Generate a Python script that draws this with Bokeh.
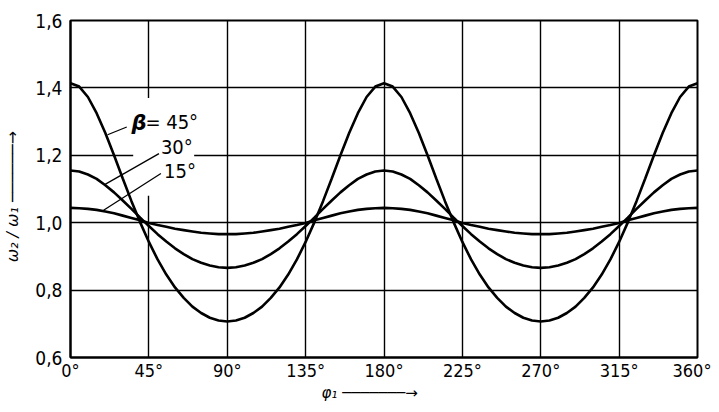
from bokeh.plotting import figure
from bokeh.models import Range1d, FixedTicker, CustomJSTickFormatter, Label
from bokeh.embed import file_html
from bokeh.resources import INLINE

# ---- data ----
phi1 = [0, 5, 10, 15, 20, 25, 30, 35, 40, 45, 50, 55, 60, 65, 70, 75, 80, 85, 90,
        95, 100, 105, 110, 115, 120, 125, 130, 135, 140, 145, 150, 155, 160, 165, 170, 175, 180,
        185, 190, 195, 200, 205, 210, 215, 220, 225, 230, 235, 240, 245, 250, 255, 260, 265, 270,
        275, 280, 285, 290, 295, 300, 305, 310, 315, 320, 325, 330, 335, 340, 345, 350, 355, 360]

ratio_45 = [1.414, 1.404, 1.373, 1.325, 1.266, 1.200, 1.131, 1.064, 1.001, 0.943, 0.891, 0.846, 0.808, 0.777, 0.751, 0.732, 0.718, 0.710, 0.707,
            0.710, 0.718, 0.732, 0.751, 0.777, 0.808, 0.846, 0.891, 0.943, 1.001, 1.064, 1.131, 1.200, 1.266, 1.325, 1.373, 1.404, 1.414,
            1.404, 1.373, 1.325, 1.266, 1.200, 1.131, 1.064, 1.001, 0.943, 0.891, 0.846, 0.808, 0.777, 0.751, 0.732, 0.718, 0.710, 0.707,
            0.710, 0.718, 0.732, 0.751, 0.777, 0.808, 0.846, 0.891, 0.943, 1.001, 1.064, 1.131, 1.200, 1.266, 1.325, 1.373, 1.404, 1.414]

ratio_30 = [1.155, 1.152, 1.143, 1.130, 1.111, 1.090, 1.066, 1.041, 1.015, 0.990, 0.966, 0.944, 0.924, 0.907, 0.892, 0.881, 0.873, 0.868, 0.866,
            0.868, 0.873, 0.881, 0.892, 0.907, 0.924, 0.944, 0.966, 0.990, 1.015, 1.041, 1.066, 1.090, 1.111, 1.130, 1.143, 1.152, 1.155,
            1.152, 1.143, 1.130, 1.111, 1.090, 1.066, 1.041, 1.015, 0.990, 0.966, 0.944, 0.924, 0.907, 0.892, 0.881, 0.873, 0.868, 0.866,
            0.868, 0.873, 0.881, 0.892, 0.907, 0.924, 0.944, 0.966, 0.990, 1.015, 1.041, 1.066, 1.090, 1.111, 1.130, 1.143, 1.152, 1.155]

ratio_15 = [1.044, 1.043, 1.041, 1.038, 1.033, 1.028, 1.021, 1.014, 1.007, 0.999, 0.993, 0.988, 0.982, 0.978, 0.974, 0.970, 0.968, 0.966, 0.966,
            0.966, 0.968, 0.970, 0.974, 0.978, 0.982, 0.988, 0.993, 0.999, 1.007, 1.014, 1.021, 1.028, 1.033, 1.038, 1.041, 1.043, 1.044,
            1.043, 1.041, 1.038, 1.033, 1.028, 1.021, 1.014, 1.007, 0.999, 0.993, 0.988, 0.982, 0.978, 0.974, 0.970, 0.968, 0.966, 0.966,
            0.966, 0.968, 0.970, 0.974, 0.978, 0.982, 0.988, 0.993, 0.999, 1.007, 1.014, 1.021, 1.028, 1.033, 1.038, 1.041, 1.043, 1.044]

x_ticks = [0, 45, 90, 135, 180, 225, 270, 315, 360]
y_ticks = [0.6, 0.8, 1.0, 1.2, 1.4, 1.6]

FONT = "Liberation Sans Narrow, DejaVu Sans Condensed, Roboto"
TITLE_FONT = "DejaVu Sans"

p = figure(width=711, height=404, x_range=Range1d(0, 360), y_range=Range1d(0.6, 1.6),
           output_backend="svg", toolbar_location=None,
           min_border_left=68, min_border_right=14, min_border_top=20, min_border_bottom=40)
p.background_fill_color = "white"
p.border_fill_color = "white"
p.outline_line_color = "black"
p.outline_line_width = 2

for ax in (p.xaxis[0], p.yaxis[0]):
    ax.major_tick_out = 0
    ax.major_tick_in = 0
    ax.minor_tick_out = 0
    ax.minor_tick_in = 0
    ax.axis_line_color = "black"
    ax.axis_line_width = 2
    ax.major_label_text_font = FONT
    ax.major_label_text_font_size = "19px"
    ax.major_label_text_color = "black"
    ax.axis_label_text_font = TITLE_FONT
    ax.axis_label_text_font_size = "16px"
    ax.axis_label_text_color = "black"
    ax.axis_label_text_font_style = "italic"

p.xaxis.major_label_text_font_size = "18px"
p.xaxis.axis_label_text_font_size = "15px"
p.xaxis.ticker = FixedTicker(ticks=x_ticks)
p.yaxis.ticker = FixedTicker(ticks=y_ticks)
p.xaxis.formatter = CustomJSTickFormatter(code="return tick.toFixed(0) + '\u00b0';")
p.yaxis.formatter = CustomJSTickFormatter(code="return tick.toFixed(1).replace('.', ',');")
p.xaxis.major_label_standoff = 2
p.yaxis.major_label_standoff = 8
p.xaxis.axis_label = "     \u03c6\u2081  \u2500\u2500\u2500\u2500\u2500\u2500\u2500\u2192"
p.yaxis.axis_label = "\u03c9\u2082 / \u03c9\u2081    \u2500\u2500\u2500\u2500\u2500\u2500\u2192"
p.xaxis.axis_label_standoff = 0
p.yaxis.axis_label_standoff = 10

p.xgrid.ticker = FixedTicker(ticks=x_ticks)
p.ygrid.ticker = FixedTicker(ticks=y_ticks)
for g in (p.xgrid[0], p.ygrid[0]):
    g.grid_line_color = "black"
    g.grid_line_width = 1.4
    g.grid_line_alpha = 1.0

# gaps in the grid behind the curve labels
p.quad(left=[42.5, 36.0], right=[47.5, 71.0], bottom=[1.08, 1.185], top=[1.37, 1.215],
       fill_color="white", line_color=None)

# curves
for ys in (ratio_45, ratio_30, ratio_15):
    p.line(phi1, ys, line_color="black", line_width=2.6)

# leader lines
p.segment(x0=[21.3, 19.6, 19.0], y0=[1.261, 1.113, 1.037],
          x1=[32.3, 50.8, 51.9], y1=[1.284, 1.205, 1.146],
          line_color="black", line_width=1.3)

# curve labels
lbl = dict(text_font=FONT, text_font_size="20px", text_color="black",
           text_baseline="middle", text_align="left")
p.add_layout(Label(x=35.0, y=1.297, text="\u03b2", text_font="DejaVu Sans", text_font_size="21px",
                   text_font_style="bold italic", text_color="black",
                   text_baseline="middle", text_align="left"))
p.add_layout(Label(x=43.0, y=1.300, text="= 45\u00b0", **lbl))
p.add_layout(Label(x=51.9, y=1.225, text="30\u00b0", **lbl))
p.add_layout(Label(x=53.7, y=1.153, text="15\u00b0", **lbl))

open("out.html", "w").write(file_html(p, INLINE))
